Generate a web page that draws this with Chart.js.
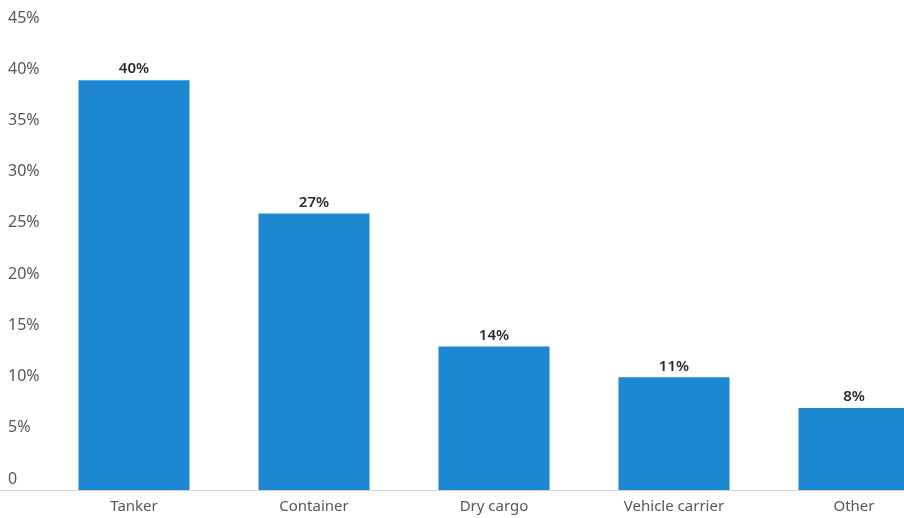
<!DOCTYPE html>
<html>
<head>
<meta charset="utf-8">
<script src="https://cdn.jsdelivr.net/npm/chart.js@4"></script>
<style>
  html, body { margin: 0; padding: 0; background: #fff; overflow: hidden; }
  #wrap { width: 904px; height: 518px; overflow: hidden; position: relative; }
  canvas { display: block; }
</style>
</head>
<body>
<div id="wrap"><canvas id="chart" width="944" height="518"></canvas></div>
<script>
// chart data
const categories = ['Tanker', 'Container', 'Dry cargo', 'Vehicle carrier', 'Other'];
const shares = [40, 27, 14, 11, 8];
const yTicks = [0, 5, 10, 15, 20, 25, 30, 35, 40, 45];

const barBlue = '#1d88d1';
const textGrey = '#5a5555';
const fontFamily = '"Noto Sans", Lato, sans-serif';

// value labels drawn above each bar
const barLabels = {
  id: 'barLabels',
  afterDatasetsDraw(chart) {
    const ctx = chart.ctx;
    const meta = chart.getDatasetMeta(0);
    ctx.save();
    ctx.font = '600 15px ' + fontFamily;
    ctx.fillStyle = '#2b2b2b';
    ctx.textAlign = 'center';
    ctx.textBaseline = 'middle';
    meta.data.forEach((bar, i) => {
      ctx.fillText(shares[i] + '%', bar.x, bar.y - 11);
    });
    ctx.restore();
  }
};

// faint baseline across the whole width
const baseLine = {
  id: 'baseLine',
  beforeDatasetsDraw(chart) {
    const ctx = chart.ctx;
    const y = Math.round(chart.scales.y.getPixelForValue(0)) + 0.5;
    ctx.save();
    ctx.strokeStyle = '#d6d2d0';
    ctx.lineWidth = 1;
    ctx.beginPath();
    ctx.moveTo(0, y);
    ctx.lineTo(chart.width, y);
    ctx.stroke();
    ctx.restore();
  }
};

new Chart(document.getElementById('chart'), {
  type: 'bar',
  data: {
    labels: categories,
    datasets: [{
      data: shares,
      backgroundColor: barBlue,
      borderWidth: 0,
      categoryPercentage: 1,
      barPercentage: 0.617
    }]
  },
  options: {
    responsive: false,
    animation: false,
    layout: { padding: { top: 29, left: 8, right: 0, bottom: 0 } },
    plugins: {
      legend: { display: false },
      tooltip: { enabled: false }
    },
    scales: {
      x: {
        grid: { display: false },
        border: { display: false },
        ticks: {
          color: textGrey,
          font: { family: fontFamily, size: 15 },
          padding: 0,
          maxRotation: 0
        },
        afterFit(scale) { scale.height = 28; }
      },
      y: {
        min: 0,
        max: 45,
        afterBuildTicks(scale) { scale.ticks = yTicks.map(v => ({ value: v })); },
        grid: { display: false },
        border: { display: false },
        ticks: {
          color: textGrey,
          font: { family: fontFamily, size: 16 },
          crossAlign: 'far',
          labelOffset: -11,
          padding: 0,
          callback: v => v === 0 ? '0' : v + '%'
        },
        afterFit(scale) { scale.width = 36; }
      }
    }
  },
  plugins: [baseLine, barLabels]
});
</script>
</body>
</html>
